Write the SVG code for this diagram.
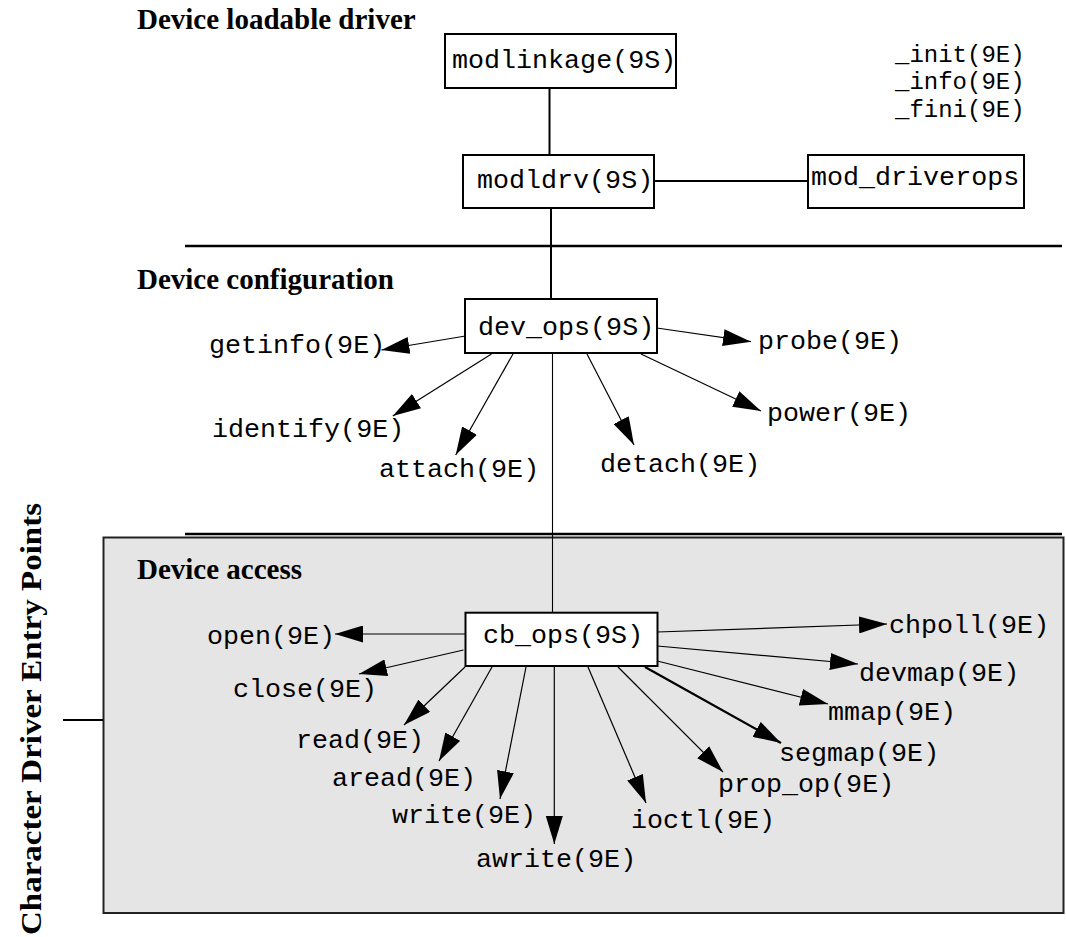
<svg xmlns="http://www.w3.org/2000/svg" width="1066" height="937" viewBox="0 0 1066 937">
<style>
.title{font-family:"Liberation Serif","Times New Roman",serif;font-weight:bold;font-size:29px;fill:#000}
.mono{font-family:"Liberation Mono","Courier New",monospace;font-size:26.7px;fill:#000}
.small{font-family:"Liberation Mono","Courier New",monospace;font-size:24px;fill:#000}
.box{fill:#fff;stroke:#000;stroke-width:2}
.thick{stroke:#000;stroke-width:2;fill:none}
.rule{stroke:#000;stroke-width:2.5;fill:none}
.arr{stroke:#000;stroke-width:1.2;fill:none;marker-end:url(#ah)}
.arrB{stroke:#000;stroke-width:2.2;fill:none;marker-end:url(#ah)}
.thin{stroke:#000;stroke-width:1.1;fill:none}
</style>
<defs>
<marker id="ah" viewBox="0 0 28 17" markerWidth="28" markerHeight="17" refX="28" refY="8.5" orient="auto" markerUnits="userSpaceOnUse">
<path d="M0,0 L28,8.5 L0,17 z" fill="#000"/>
</marker>
</defs>
<rect x="0" y="0" width="1066" height="937" fill="#fff"/>

<g id="access-panel">
<rect x="103.5" y="537.5" width="960" height="375.5" fill="#e5e5e5" stroke="#222" stroke-width="2"/>
</g>

<g id="section-titles">
<text class="title" x="137" y="29">Device loadable driver</text>
<text class="title" x="137" y="289">Device configuration</text>
<text class="title" x="137" y="579">Device access</text>
<text class="title" transform="translate(41,935) rotate(-90)" textLength="432" lengthAdjust="spacingAndGlyphs" font-size="38">Character Driver Entry Points</text>
</g>

<g id="connectors">
<line class="rule" x1="185" y1="246" x2="1062" y2="246"/>
<line class="rule" x1="185" y1="534" x2="1062" y2="534"/>
<line class="thick" x1="63" y1="720" x2="103" y2="720"/>
<line class="thick" x1="549.5" y1="88" x2="549.5" y2="155"/>
<line class="thick" x1="654" y1="181" x2="808" y2="181"/>
<line class="thick" x1="551" y1="208" x2="551" y2="299"/>
<line class="thin" x1="552.5" y1="353" x2="552.5" y2="612.7"/>
<line class="arr" x1="465.5" y1="336" x2="381.4" y2="350"/>
<line class="arr" x1="656.8" y1="328" x2="751" y2="341.7"/>
<line class="arr" x1="491.5" y1="354" x2="392.8" y2="416"/>
<line class="arr" x1="513" y1="354" x2="455.7" y2="455"/>
<line class="arr" x1="587" y1="354" x2="634" y2="445"/>
<line class="arr" x1="641" y1="354" x2="761" y2="411"/>
<line class="arr" x1="465.5" y1="634" x2="335" y2="634"/>
<line class="arr" x1="463.5" y1="650" x2="359" y2="674"/>
<line class="arr" x1="465" y1="667" x2="404" y2="725"/>
<line class="arr" x1="492" y1="667" x2="439" y2="761"/>
<line class="arr" x1="526" y1="667" x2="500" y2="799"/>
<line class="arr" x1="554.3" y1="667" x2="554.3" y2="844"/>
<line class="arr" x1="588" y1="667" x2="646" y2="803"/>
<line class="arr" x1="618" y1="667" x2="723" y2="772"/>
<line class="arrB" x1="645" y1="667" x2="781" y2="743"/>
<line class="arr" x1="657.3" y1="661" x2="828" y2="704"/>
<line class="arr" x1="657.3" y1="646" x2="858" y2="664"/>
<line class="arr" x1="657.3" y1="632" x2="887" y2="624"/>
</g>

<g id="modlinkage">
<rect class="box" x="445" y="34" width="231" height="54"/>
<text class="mono" x="452" y="68">modlinkage(9S)</text>
</g>
<g id="entry-list">
<text class="small" x="895" y="62">_init(9E)</text>
<text class="small" x="895" y="89">_info(9E)</text>
<text class="small" x="895" y="117">_fini(9E)</text>
</g>
<g id="modldrv">
<rect class="box" x="463" y="155" width="191" height="53"/>
<text class="mono" x="477" y="188">modldrv(9S)</text>
</g>
<g id="mod_driverops">
<rect class="box" x="808" y="155" width="216" height="53"/>
<text class="mono" x="811" y="185">mod_driverops</text>
</g>
<g id="dev_ops">
<rect class="box" x="465" y="299" width="192" height="54"/>
<text class="mono" x="478" y="335">dev_ops(9S)</text>
</g>
<g id="getinfo"><text class="mono" x="209" y="353">getinfo(9E)</text></g>
<g id="probe"><text class="mono" x="758" y="349">probe(9E)</text></g>
<g id="identify"><text class="mono" x="212" y="437">identify(9E)</text></g>
<g id="attach"><text class="mono" x="379" y="477">attach(9E)</text></g>
<g id="detach"><text class="mono" x="600" y="472">detach(9E)</text></g>
<g id="power"><text class="mono" x="767" y="421">power(9E)</text></g>

<g id="cb_ops">
<rect class="box" x="465.5" y="612.7" width="192" height="53.3"/>
<text class="mono" x="483" y="643">cb_ops(9S)</text>
</g>
<g id="open"><text class="mono" x="207" y="644">open(9E)</text></g>
<g id="close"><text class="mono" x="233" y="697">close(9E)</text></g>
<g id="read"><text class="mono" x="296" y="748">read(9E)</text></g>
<g id="aread"><text class="mono" x="332" y="786">aread(9E)</text></g>
<g id="write"><text class="mono" x="392" y="823">write(9E)</text></g>
<g id="awrite"><text class="mono" x="476" y="867">awrite(9E)</text></g>
<g id="ioctl"><text class="mono" x="631" y="828">ioctl(9E)</text></g>
<g id="prop_op"><text class="mono" x="718" y="792">prop_op(9E)</text></g>
<g id="segmap"><text class="mono" x="779" y="761">segmap(9E)</text></g>
<g id="mmap"><text class="mono" x="828" y="720">mmap(9E)</text></g>
<g id="devmap"><text class="mono" x="859" y="681">devmap(9E)</text></g>
<g id="chpoll"><text class="mono" x="889" y="633">chpoll(9E)</text></g>
</svg>
